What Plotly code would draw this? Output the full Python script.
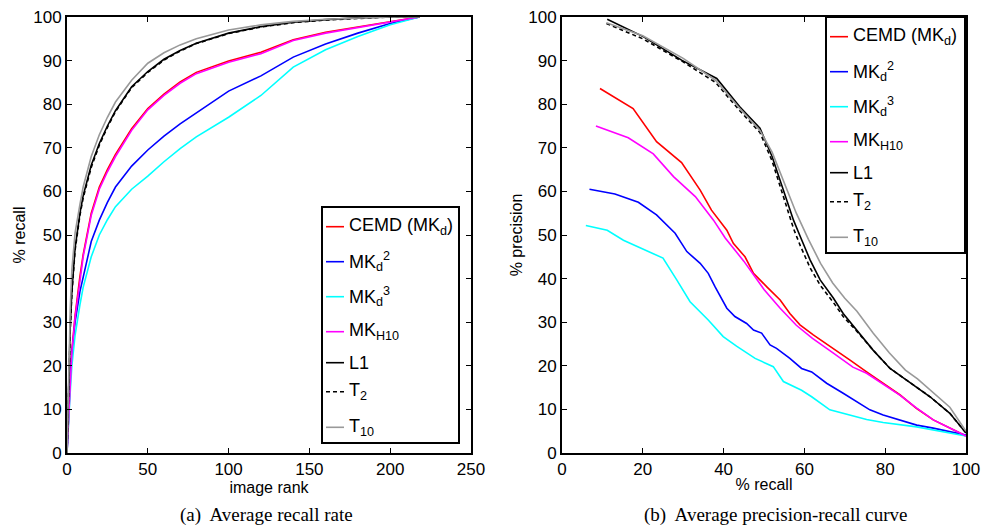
import plotly.graph_objects as go

# ---- (a) average recall rate vs image rank ----
rank = [0, 1, 2, 3, 5, 8, 10, 15, 20, 25, 30, 40, 50, 60, 70, 80, 100, 120, 140, 160, 180, 200, 218]
rec_cemd = [0, 9.5, 17.5, 23.5, 31.5, 40.5, 45.5, 55, 61, 65, 68.5, 74.4, 79, 82.3, 85.1, 87.3, 89.9, 91.9, 94.8, 96.5, 97.7, 98.9, 100]
rec_mkd2 = [0, 10, 17, 23, 30, 37, 40.5, 48.5, 53.4, 57.5, 61, 65.8, 69.5, 72.7, 75.5, 78, 83, 86.5, 90.8, 93.8, 96.3, 98.5, 100]
rec_mkd3 = [0, 8, 14, 20, 27, 34, 38, 45, 50, 53.5, 56.5, 60.5, 63.5, 66.8, 69.8, 72.5, 77, 82, 88.5, 92.5, 95.5, 98.2, 100]
rec_mkh10 = [0, 9, 17, 23, 31, 40, 45, 54.5, 60.5, 64.5, 68, 74, 78.7, 82, 84.8, 87, 89.6, 91.6, 94.6, 96.3, 97.6, 98.8, 100]
rec_l1 = [0, 17, 29, 37, 47, 55, 59, 66, 71, 75, 78.5, 84, 87.5, 90.3, 92.3, 94, 96.3, 97.8, 98.8, 99.4, 99.8, 100, 100]
rec_t2 = [0, 16, 28, 36.5, 46.5, 54.5, 58.5, 65.5, 70.6, 74.7, 78.3, 83.8, 87.3, 90.1, 92.2, 93.9, 96.2, 97.7, 98.7, 99.3, 99.7, 100, 100]
rec_t10 = [0, 20, 33, 42, 50.5, 57, 61, 68, 73, 77, 80.5, 85.5, 89.4, 91.8, 93.6, 95, 97, 98.2, 99, 99.5, 99.8, 100, 100]

# ---- (b) precision-recall ----
pr_cemd_r = [9.4, 17.6, 23.4, 29.6, 34.2, 37, 40.8, 42.4, 45.3, 47.4, 50.7, 54, 56.4, 58.9, 62.2, 67.2, 71.3, 75.4, 79.5, 83.7, 87.8, 91.9, 100]
pr_cemd_p = [83.6, 79, 71.4, 66.6, 60.3, 55.7, 51.1, 48.1, 45, 41.2, 38.1, 35.1, 32, 29.4, 27.1, 24, 21.3, 18.6, 16, 13.3, 10.2, 7.6, 3.9]
pr_mkd2_r = [6.8, 13.1, 18.9, 23.4, 28, 30.9, 34.2, 36.2, 37.9, 39.5, 40.8, 42.8, 45.7, 47.4, 49.4, 51.5, 53.1, 56.4, 59.3, 61.8, 65.5, 69.6, 72.9, 76.2, 79.5, 83.7, 87.8, 91.9, 100]
pr_mkd2_p = [60.5, 59.4, 57.5, 54.6, 50.4, 46.2, 43.5, 41.2, 38.1, 35.5, 33.2, 31.3, 29.7, 28.2, 27.5, 24.8, 24, 21.7, 19.4, 18.6, 16, 13.7, 11.8, 9.9, 8.7, 7.6, 6.4, 5.7, 4.1]
pr_mkd3_r = [5.9, 11.2, 15.2, 20, 25, 28.4, 31.7, 36.2, 39.9, 43.2, 47.8, 52.3, 54.8, 59.3, 61.8, 66.3, 71.3, 75.4, 79.5, 87.8, 100]
pr_mkd3_p = [52.2, 51.1, 48.8, 46.8, 44.7, 39.7, 34.7, 30.5, 26.7, 24.5, 21.7, 19.8, 16.4, 14.4, 12.9, 9.9, 8.7, 7.7, 7, 6, 3.9]
pr_mkh10_r = [8.4, 16.4, 22.6, 27.6, 33, 37.5, 40.4, 45, 50, 54, 58, 62, 67, 72, 75.4, 79.5, 83.7, 87.8, 91.9, 100]
pr_mkh10_p = [75, 72.3, 68.6, 63.4, 58.8, 53.4, 49.3, 44, 37.5, 33.2, 29.3, 26.3, 23, 19.7, 18.3, 15.8, 13.2, 10.3, 7.6, 3.9]
pr_l1_r = [11.2, 20.1, 29.6, 38.3, 44, 49, 52, 55, 57.3, 59, 61.4, 63.9, 67.2, 69.6, 72.9, 77, 81.2, 85.3, 91.1, 96, 100]
pr_l1_p = [99.5, 95.5, 90.1, 85.9, 79.4, 74.5, 68, 60, 53.4, 49.6, 44.3, 39.7, 35.5, 32, 28.2, 23.6, 19.4, 16.7, 12.9, 9.1, 4.6]
pr_t2_r = [11, 20, 30, 38, 44, 49, 52, 55, 57.3, 59, 61.4, 63.9, 67.2, 69.6, 72.9, 77, 81.2, 85.3, 91.1, 96, 100]
pr_t2_p = [98.5, 95, 89.7, 85, 78.5, 73.5, 67, 58.5, 51.5, 47.5, 42.5, 38.5, 34.5, 31.3, 28, 23.6, 19.4, 16.7, 12.9, 9.1, 4.6]
pr_t10_r = [11, 20, 30, 38, 44, 49, 52, 55, 58, 61, 64, 67, 70, 73, 77, 81, 85, 88, 91, 96, 100]
pr_t10_p = [98.7, 95.7, 90.5, 85.5, 79, 74, 69, 62, 55, 49, 43.5, 39, 35.5, 32.5, 27.5, 23, 19, 17, 14.5, 10.5, 5]

names = ["CEMD (MK<sub>d</sub>)", "MK<sub>d</sub><sup>2</sup>", "MK<sub>d</sub><sup>3</sup>",
         "MK<sub>H10</sub>", "L1", "T<sub>2</sub>", "T<sub>10</sub>"]
colors = ["#ff0000", "#0000ff", "#00ffff", "#ff00ff", "#000000", "#000000", "#999999"]
dashes = ["solid", "solid", "solid", "solid", "solid", "4px,3px", "solid"]

# full-window figure; the page's default body margin is removed after drawing
W, H = 982, 528
def px(x):
    return x / W
def py(y):
    return 1 - y / H

left_y = [rec_cemd, rec_mkd2, rec_mkd3, rec_mkh10, rec_l1, rec_t2, rec_t10]
right_xy = [(pr_cemd_r, pr_cemd_p), (pr_mkd2_r, pr_mkd2_p), (pr_mkd3_r, pr_mkd3_p),
            (pr_mkh10_r, pr_mkh10_p), (pr_l1_r, pr_l1_p), (pr_t2_r, pr_t2_p), (pr_t10_r, pr_t10_p)]

fig = go.Figure()
for i in range(7):
    fig.add_trace(go.Scatter(x=rank, y=left_y[i], mode="lines", name=names[i], showlegend=False,
                             line=dict(color=colors[i], width=1.6, dash=dashes[i]), xaxis="x", yaxis="y"))
for i in range(7):
    fig.add_trace(go.Scatter(x=right_xy[i][0], y=right_xy[i][1], mode="lines", name=names[i], showlegend=False,
                             line=dict(color=colors[i], width=1.6, dash=dashes[i]), xaxis="x2", yaxis="y2"))

sans = "Liberation Sans, Arial, sans-serif"
axis_common = dict(showline=True, linewidth=2, linecolor="black", mirror="ticks", ticks="inside",
                   ticklen=5, tickwidth=1, tickcolor="black", showgrid=False, zeroline=False,
                   automargin=False, ticklabeloverflow="allow",
                   tickfont=dict(family=sans, size=17, color="black"))
ydom = [py(453), py(17)]
fig.update_layout(
    width=W, height=H, margin=dict(l=0, r=0, t=0, b=0, autoexpand=False),
    plot_bgcolor="white", paper_bgcolor="white",
    xaxis=dict(domain=[px(67), px(471)], range=[0, 250], dtick=50, anchor="y",
               title=dict(text="image rank", font=dict(family=sans, size=16, color="black"), standoff=0),
               **axis_common),
    yaxis=dict(domain=ydom, range=[0, 100], dtick=10, anchor="x",
               title=dict(text="% recall", font=dict(family=sans, size=16, color="black"), standoff=4),
               **axis_common),
    xaxis2=dict(domain=[px(562), px(966)], range=[0, 100], dtick=20, anchor="y2",
                title=dict(text="% recall", font=dict(family=sans, size=16, color="black"), standoff=0),
                **axis_common),
    yaxis2=dict(domain=ydom, range=[0, 100], dtick=10, anchor="x2",
                title=dict(text="% precision", font=dict(family=sans, size=16, color="black"), standoff=2),
                **axis_common),
)

# hand-drawn legends, MATLAB style
def legend_box(x0, x1, y0, y1):
    fig.add_shape(type="rect", xref="paper", yref="paper", x0=px(x0), x1=px(x1), y0=py(y1), y1=py(y0),
                  line=dict(color="black", width=2), fillcolor="white", layer="above")
    offs = [19.7, 54.7, 89.7, 124.7, 155.7, 184.7, 220.3]
    for i in range(7):
        yy = y0 + offs[i]
        fig.add_shape(type="line", xref="paper", yref="paper", x0=px(x0 + 4), x1=px(x0 + 22),
                      y0=py(yy), y1=py(yy), line=dict(color=colors[i], width=1.6, dash=dashes[i]), layer="above")
        fig.add_annotation(xref="paper", yref="paper", x=px(x0 + 25), y=py(yy), text=names[i],
                           showarrow=False, xanchor="left", yanchor="middle",
                           font=dict(family=sans, size=18, color="black"))

legend_box(322, 459, 207, 443)
legend_box(826, 965, 17, 253)

serif = "Liberation Serif, Times New Roman, serif"
fig.add_annotation(xref="paper", yref="paper", x=px(266), y=py(515), text="(a)  Average recall rate",
                   showarrow=False, xanchor="center", yanchor="middle",
                   font=dict(family=serif, size=19, color="black"))
fig.add_annotation(xref="paper", yref="paper", x=px(775), y=py(515), text="(b)  Average precision-recall curve",
                   showarrow=False, xanchor="center", yanchor="middle",
                   font=dict(family=serif, size=19, color="black"))

fig.write_html("out.html", config={"displayModeBar": False},
               post_script="document.body.style.margin='0px'; document.body.style.overflow='hidden';")
